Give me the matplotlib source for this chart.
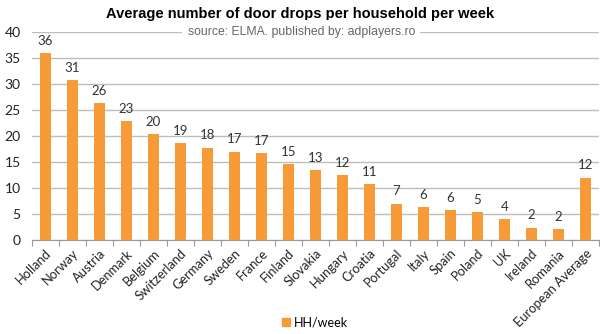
import numpy as np
import matplotlib
matplotlib.use('Agg')
from matplotlib import pyplot as plt
from matplotlib.patches import Patch

# datos
countries = ['Holland', 'Norway', 'Austria', 'Denmark', 'Belgium', 'Switzerland',
             'Germany', 'Sweden', 'France', 'Finland', 'Slovakia', 'Hungary',
             'Croatia', 'Portugal', 'Italy', 'Spain', 'Poland', 'UK', 'Ireland',
             'Romania', 'European Average']
hh_week = [36.0, 30.8, 26.3, 22.9, 20.4, 18.7, 17.8, 17.0, 16.7, 14.6, 13.4,
           12.5, 10.7, 7.0, 6.4, 5.7, 5.4, 4.1, 2.4, 2.1, 12.0]
yticks = [0, 5, 10, 15, 20, 25, 30, 35, 40]

orange = '#F79A38'
plt.rcParams['font.family'] = ['Lato', 'DejaVu Sans']

fig = plt.figure(figsize=(6, 3.34), dpi=100)
ax = fig.add_axes([0.053, 0.281, 0.945, 0.623])

x = np.arange(len(countries))
bars = ax.bar(x, hh_week, width=0.42, color=orange, zorder=3)

# etiquetas de valor
for xi, v in zip(x, hh_week):
    ax.text(xi, v + 1.2, '%d' % round(v), ha='center', va='bottom',
            fontsize=9.5, color='#333333', zorder=4)

ax.set_xlim(-0.5, len(countries) - 0.5)
ax.set_ylim(0, 40)
ax.set_yticks(yticks)
ax.yaxis.grid(True, color='#BDBDBD', linewidth=1)
ax.set_axisbelow(True)
for s in ['top', 'right', 'left']:
    ax.spines[s].set_visible(False)
ax.spines['bottom'].set_color('#999999')
ax.tick_params(axis='y', length=0, labelsize=10, colors='#222222', pad=8)

# ticks entre categorias
ax.set_xticks(np.arange(-0.5, len(countries), 1.0), minor=False)
ax.set_xticklabels([])
ax.set_xticks(x, minor=True)
ax.set_xticklabels(countries, minor=True, rotation=45, ha='right',
                   rotation_mode='anchor', fontsize=9.3, color='#222222')
ax.tick_params(axis='x', which='major', length=4, color='#999999')
ax.tick_params(axis='x', which='minor', length=0, pad=5)

fig.text(0.5, 0.957, 'Average number of door drops per household per week',
         ha='center', va='center', fontsize=10.5, fontweight='bold',
         family=['Liberation Sans', 'DejaVu Sans'])
fig.text(0.502, 0.905, 'source: ELMA. published by: adplayers.ro', ha='center',
         va='center', fontsize=8.8, color='#666666',
         family=['Liberation Sans', 'DejaVu Sans'],
         bbox=dict(facecolor='white', edgecolor='none', pad=4))

fig.legend(handles=[Patch(color=orange, label='HH/week')], loc='center',
           bbox_to_anchor=(0.525, 0.035), frameon=False, fontsize=9,
           handlelength=0.7, handleheight=0.7, handletextpad=0.3)

fig.savefig('out.png', dpi=100)
